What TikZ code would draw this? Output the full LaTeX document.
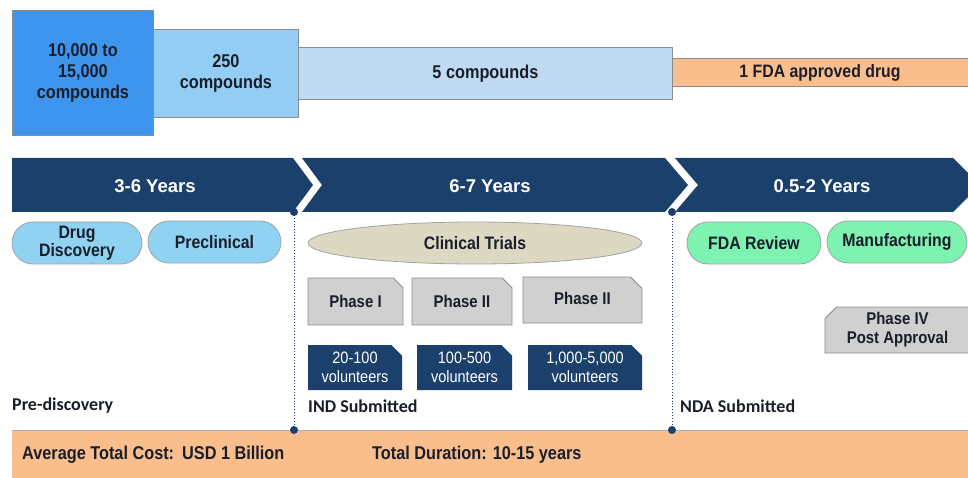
\documentclass[tikz,border=0pt]{standalone}
\usepackage{fontspec}
\setmainfont{Liberation Sans}
\newfontfamily\narrowsf[FakeStretch=0.88]{Liberation Sans}
\newfontfamily\carlfont{Carlito}
\usetikzlibrary{shapes.misc,shapes.geometric}
\definecolor{cA}{HTML}{3D95EE}
\definecolor{cB}{HTML}{93CDF3}
\definecolor{cC}{HTML}{C0DBF1}
\definecolor{cOr}{HTML}{FABE8D}
\definecolor{cNavy}{HTML}{1B406B}
\definecolor{cPill}{HTML}{90D2F2}
\definecolor{cClin}{HTML}{DDD8C2}
\definecolor{cGreen}{HTML}{7EF2B0}
\definecolor{cGray}{HTML}{D0D0D0}
\definecolor{cTxt}{HTML}{1A1E2A}
\definecolor{cEdge}{HTML}{8C8C8C}
\tikzset{
  topbox/.style={draw=cEdge, line width=0.8pt, anchor=north west, text=cTxt,
    font=\narrowsf\bfseries\fontsize{18.5}{21}\selectfont},
  band/.style={fill=cNavy, draw=none},
  bandtxt/.style={text=white, font=\bfseries\fontsize{18.5}{20}\selectfont},
  pill/.style={draw=cEdge!80, line width=0.8pt, rounded corners=21pt, minimum height=42pt,
    text=cTxt, font=\narrowsf\bfseries\fontsize{18}{18}\selectfont},
  phasebox/.style={chamfered rectangle, chamfered rectangle corners=north east,
    chamfered rectangle xsep=8pt, chamfered rectangle angle=45,
    fill=cGray, draw=cEdge, line width=0.8pt, minimum height=47pt, text=cTxt,
    font=\narrowsf\bfseries\fontsize{17}{19}\selectfont},
  volbox/.style={chamfered rectangle, chamfered rectangle corners=north east,
    chamfered rectangle xsep=7pt, chamfered rectangle angle=45,
    fill=cNavy, draw=none, minimum height=45pt, text=white,
    font=\narrowsf\fontsize{16.5}{18.5}\selectfont},
  milestone/.style={anchor=west, text=cTxt, font=\carlfont\bfseries\fontsize{18}{20}\selectfont},
  costtxt/.style={anchor=west, text=cTxt, font=\narrowsf\bfseries\fontsize{18.5}{20}\selectfont},
  dotline/.style={cNavy, dotted, line width=0.9pt},
  dotend/.style={fill=cNavy, draw=none}
}
\begin{document}
\begin{tikzpicture}[x=1pt,y=-1pt, every node/.style={inner sep=0pt, align=center}]
\useasboundingbox (0,0) rectangle (968,478);
\clip (0,0) rectangle (968,478);
\fill[white] (0,0) rectangle (968,478);

% top funnel boxes
\node[topbox, fill=cOr, minimum width=303pt, minimum height=28pt] (b4) at (672,58) {};
\node[text=cTxt, font=\narrowsf\bfseries\fontsize{18}{19}\selectfont] (b4t) at (820,73) {1 FDA approved drug};
\node[topbox, fill=cC, minimum width=374pt, minimum height=52pt] (b3) at (298,47) {5 compounds};
\node[topbox, fill=cB, minimum width=145pt, minimum height=88pt] (b2) at (153,29) {250\\compounds};
\node[topbox, fill=cA, minimum width=141pt, minimum height=125pt] (b1) at (12,10) {10,000 to\\15,000\\compounds};

% time band
\path[band] (12,158) -- (293,158) -- (313,185) -- (293,212) -- (12,212) -- cycle;
\path[band] (302,158) -- (665,158) -- (688,185) -- (665,212) -- (302,212) -- (322,185) -- cycle;
\path[band] (675,158) -- (953,158) -- (980,185) -- (953,212) -- (675,212) -- (698,185) -- cycle;
\node[bandtxt] (y1) at (155,186) {3-6 Years};
\node[bandtxt] (y2) at (490,186) {6-7 Years};
\node[bandtxt] (y3) at (822,186) {0.5-2 Years};

% stage pills
\node[pill, fill=cPill, minimum width=130pt] (p1) at (77,243) {Drug\\Discovery};
\node[pill, fill=cPill, minimum width=133pt] (p2) at (214.5,242) {Preclinical};
\node[ellipse, draw=cEdge!80, line width=0.8pt, fill=cClin, minimum width=334pt, minimum height=42pt,
  text=cTxt, font=\narrowsf\bfseries\fontsize{18}{18}\selectfont] (p3) at (475,243) {Clinical Trials};
\node[pill, fill=cGreen, minimum width=134pt] (p4) at (754,243) {FDA Review};
\node[pill, fill=cGreen, minimum width=140pt] (p5) at (897,242) {Manufacturing};

% phases
\node[phasebox, minimum width=95pt] (ph1) at (355.5,301.5) {Phase I};
\node[phasebox, minimum width=100pt] (ph2) at (462,301.5) {Phase II};
\node[phasebox, minimum width=119pt, minimum height=46pt, text depth=4pt] (ph3) at (582.5,300) {Phase II};
\node[phasebox, chamfered rectangle corners=north west, minimum width=145pt, minimum height=46pt]
  (ph4) at (897.5,330) {Phase IV\\Post Approval};

% volunteers
\node[volbox, minimum width=94pt] (v1) at (355,367.5) {20-100\\volunteers};
\node[volbox, minimum width=95pt] (v2) at (464.5,367.5) {100-500\\volunteers};
\node[volbox, minimum width=114pt] (v3) at (585,367.5) {1,000-5,000\\volunteers};

% milestones
\node[milestone] (m0) at (12,406) {Pre-discovery};
\node[milestone] (m1) at (308,406) {IND Submitted};
\node[milestone] (m2) at (680,406) {NDA Submitted};

% bottom band
\node[draw=none, fill=cOr, anchor=north west, minimum width=963pt, minimum height=55pt] (cost) at (12,430) {};
\draw[cEdge!70, line width=0.8pt] (cost.north west) -- (cost.north east);
\node[costtxt] (c1) at (22,455) {Average Total Cost:\hspace{8pt}USD 1 Billion};
\node[costtxt] (c2) at (372,455) {Total Duration: 10-15 years};

% milestone markers
\coordinate (d1t) at (294,212);
\coordinate (d1b) at (294,430);
\coordinate (d2t) at (672,212);
\coordinate (d2b) at (672,430);
\draw[dotline] (d1t) -- (d1b);
\draw[dotline] (d2t) -- (d2b);
\foreach \c in {d1t,d1b,d2t,d2b} \fill[dotend] (\c) circle (4pt);
\end{tikzpicture}
\end{document}
